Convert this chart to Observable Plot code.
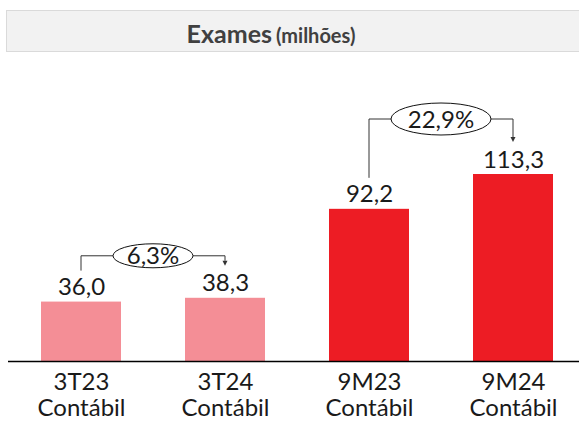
<!DOCTYPE html>
<html>
<head>
<meta charset="utf-8">
<script src="https://cdn.jsdelivr.net/npm/d3@7"></script>
<script src="https://cdn.jsdelivr.net/npm/@observablehq/plot@0.6"></script>
<style>
  html, body { margin: 0; padding: 0; background: #fff; }
  #wrap { position: relative; width: 579px; height: 421px; overflow: hidden; font-family: Lato, "DejaVu Sans", sans-serif; }
  #title { position: absolute; left: 6px; top: 10px; width: 600px; height: 42px; background: #f2f2f2;
           border: 1px solid #dadada; box-sizing: border-box; color: #404040; font-weight: 700;
           line-height: 44px; }
  #title span.t { position: absolute; left: 0; width: 528px; text-align: center; white-space: nowrap; }
  #title .big { font-size: 25px; }
  #title .small { font-size: 20px; }
  #chart { position: absolute; left: 0; top: 0; }
</style>
</head>
<body>
<div id="wrap">
  <div id="title"><span class="t"><span class="big">Exames</span> <span class="small">(milhões)</span></span></div>
  <div id="chart"></div>
</div>
<script>
const categories = ["3T23\nContábil", "3T24\nContábil", "9M23\nContábil", "9M24\nContábil"];
const values = [36.0, 38.3, 92.2, 113.3];
const valueLabels = ["36,0", "38,3", "92,2", "113,3"];
const groups = ["trim", "trim", "acum", "acum"];
const annFrom = ["3T23\nContábil", "9M23\nContábil"];
const annTo = ["3T24\nContábil", "9M24\nContábil"];
const annLabels = ["6,3%", "22,9%"];

const data = categories.map((c, i) => ({cat: c, value: values[i], label: valueLabels[i], group: groups[i]}));
const font = "Lato, 'DejaVu Sans', sans-serif";

const plot = Plot.plot({
  width: 579,
  height: 421,
  marginLeft: 8,
  marginRight: 0,
  marginTop: 0,
  marginBottom: 60,
  style: {fontFamily: font, background: "transparent", overflow: "visible"},
  x: {domain: categories, range: [-24.3, 617.2], padding: 0.4456, axis: null},
  y: {domain: [0, 113.3], range: [361, 174], axis: null},
  color: {domain: ["trim", "acum"], range: ["#f48e96", "#ed1c24"]},
  marks: [
    Plot.barY(data, {x: "cat", y: "value", fill: "group"}),
    Plot.ruleY([0], {stroke: "#000", strokeWidth: 1.3}),
    Plot.text(data, {x: "cat", y: "value", text: "label", dy: -7, lineAnchor: "bottom",
      fontSize: 24, fill: "#1a1a1a", fontFamily: font}),
    Plot.axisX({anchor: "bottom", tickSize: 0, tickPadding: 9, fontSize: 24, lineHeight: 1.12,
      fill: "#1a1a1a", fontFamily: font, label: null})
  ]
});

document.getElementById("chart").appendChild(plot);

// Growth annotations, placed with the plot's own scales
const sx = plot.scale("x"), sy = plot.scale("y");
const bw = sx.bandwidth;
const cx = c => sx.apply(c) + bw / 2;
const vy = c => sy.apply(values[categories.indexOf(c)]);
const gapLevel = [42, 55];
const ell = [[40, 12], [50, 16]];
const svg = d3.select(plot);
const g = svg.append("g").attr("stroke", "#333").attr("fill", "none").attr("stroke-width", 1);

annLabels.forEach((lab, i) => {
  const x1 = cx(annFrom[i]), x2 = cx(annTo[i]);
  const y1 = vy(annFrom[i]), y2 = vy(annTo[i]);
  const level = Math.min(y1, y2) - gapLevel[i];
  const xm = (x1 + x2) / 2;
  const [rx, ry] = ell[i];
  const arrowEnd = y2 - 32;
  g.append("path").attr("d", `M${x1},${y1 - 31}V${level}H${xm - rx}`);
  g.append("path").attr("d", `M${xm + rx},${level}H${x2}V${arrowEnd - 5}`);
  g.append("path").attr("d", `M${x2 - 2.5},${arrowEnd - 5}L${x2 + 2.5},${arrowEnd - 5}L${x2},${arrowEnd}Z`)
    .attr("fill", "#333").attr("stroke", "none");
  g.append("ellipse").attr("cx", xm).attr("cy", level).attr("rx", rx).attr("ry", ry)
    .attr("fill", "#fff").attr("stroke", "#111");
  svg.append("text").attr("x", xm).attr("y", level).attr("text-anchor", "middle")
    .attr("dy", "0.36em").attr("font-size", 24).attr("font-family", font).attr("fill", "#1a1a1a")
    .text(lab);
});
</script>
</body>
</html>
